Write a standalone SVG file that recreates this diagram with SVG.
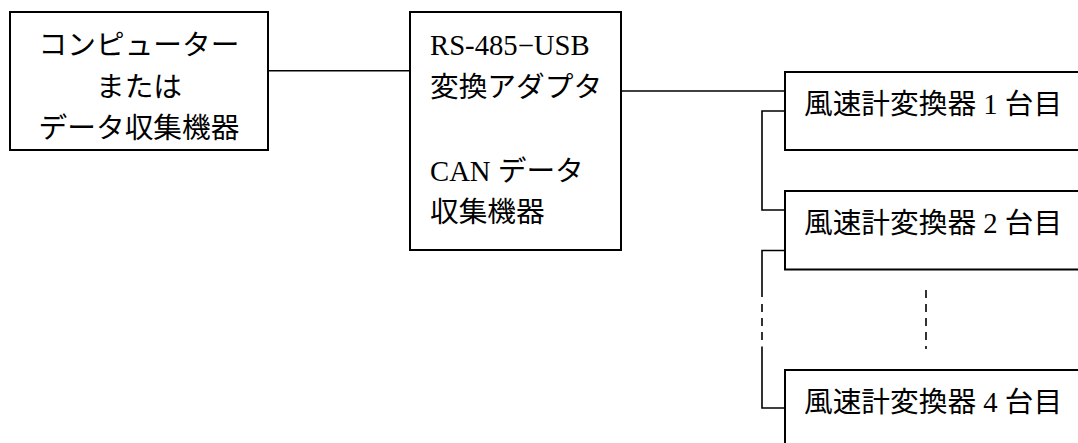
<svg xmlns="http://www.w3.org/2000/svg" width="1078" height="443" viewBox="0 0 1078 443">
<style>
.box{fill:#fff;stroke:#000;stroke-width:2}
.ln{fill:none;stroke:#000;stroke-width:1.6}
.dash{fill:none;stroke:#000;stroke-width:1.6;stroke-dasharray:8 6}
text{font-family:"Liberation Serif","Noto Sans CJK JP",serif;font-size:28.7px;fill:#000}
.c{text-anchor:middle}
</style>
<rect width="1078" height="443" fill="#fff"/>
<g id="connectors">
<line class="ln" x1="268" y1="70.7" x2="410" y2="70.7"/>
<line class="ln" x1="621" y1="91" x2="785" y2="91"/>
<path class="ln" d="M785,111 H762 V210 H785"/>
<path class="ln" d="M785,250.5 H762 V297"/>
<path class="dash" d="M762,304 V342"/>
<path class="ln" d="M762,346.5 V408 H785"/>
<path class="dash" d="M926,290 V349"/>
</g>
<g id="n1">
<rect class="box" x="10" y="12" width="258" height="138"/>
<text class="c" x="139" y="55">コンピューター</text>
<text class="c" x="139" y="96.5">または</text>
<text class="c" x="139" y="138">データ収集機器</text>
</g>
<g id="n2">
<rect class="box" x="410" y="12" width="211" height="238"/>
<text x="430" y="55">RS-485−USB</text>
<text x="430" y="96.7">変換アダプタ</text>
<text x="430" y="180.5">CAN データ</text>
<text x="430" y="222">収集機器</text>
</g>
<g id="n3">
<rect class="box" x="785" y="72" width="300" height="78"/>
<text x="804" y="113.5">風速計変換器 1 台目</text>
</g>
<g id="n4">
<rect class="box" x="785" y="191" width="300" height="78.5"/>
<text x="804" y="232.5">風速計変換器 2 台目</text>
</g>
<g id="n5">
<rect class="box" x="785" y="370" width="300" height="80"/>
<text x="804" y="411.5">風速計変換器 4 台目</text>
</g>
</svg>
